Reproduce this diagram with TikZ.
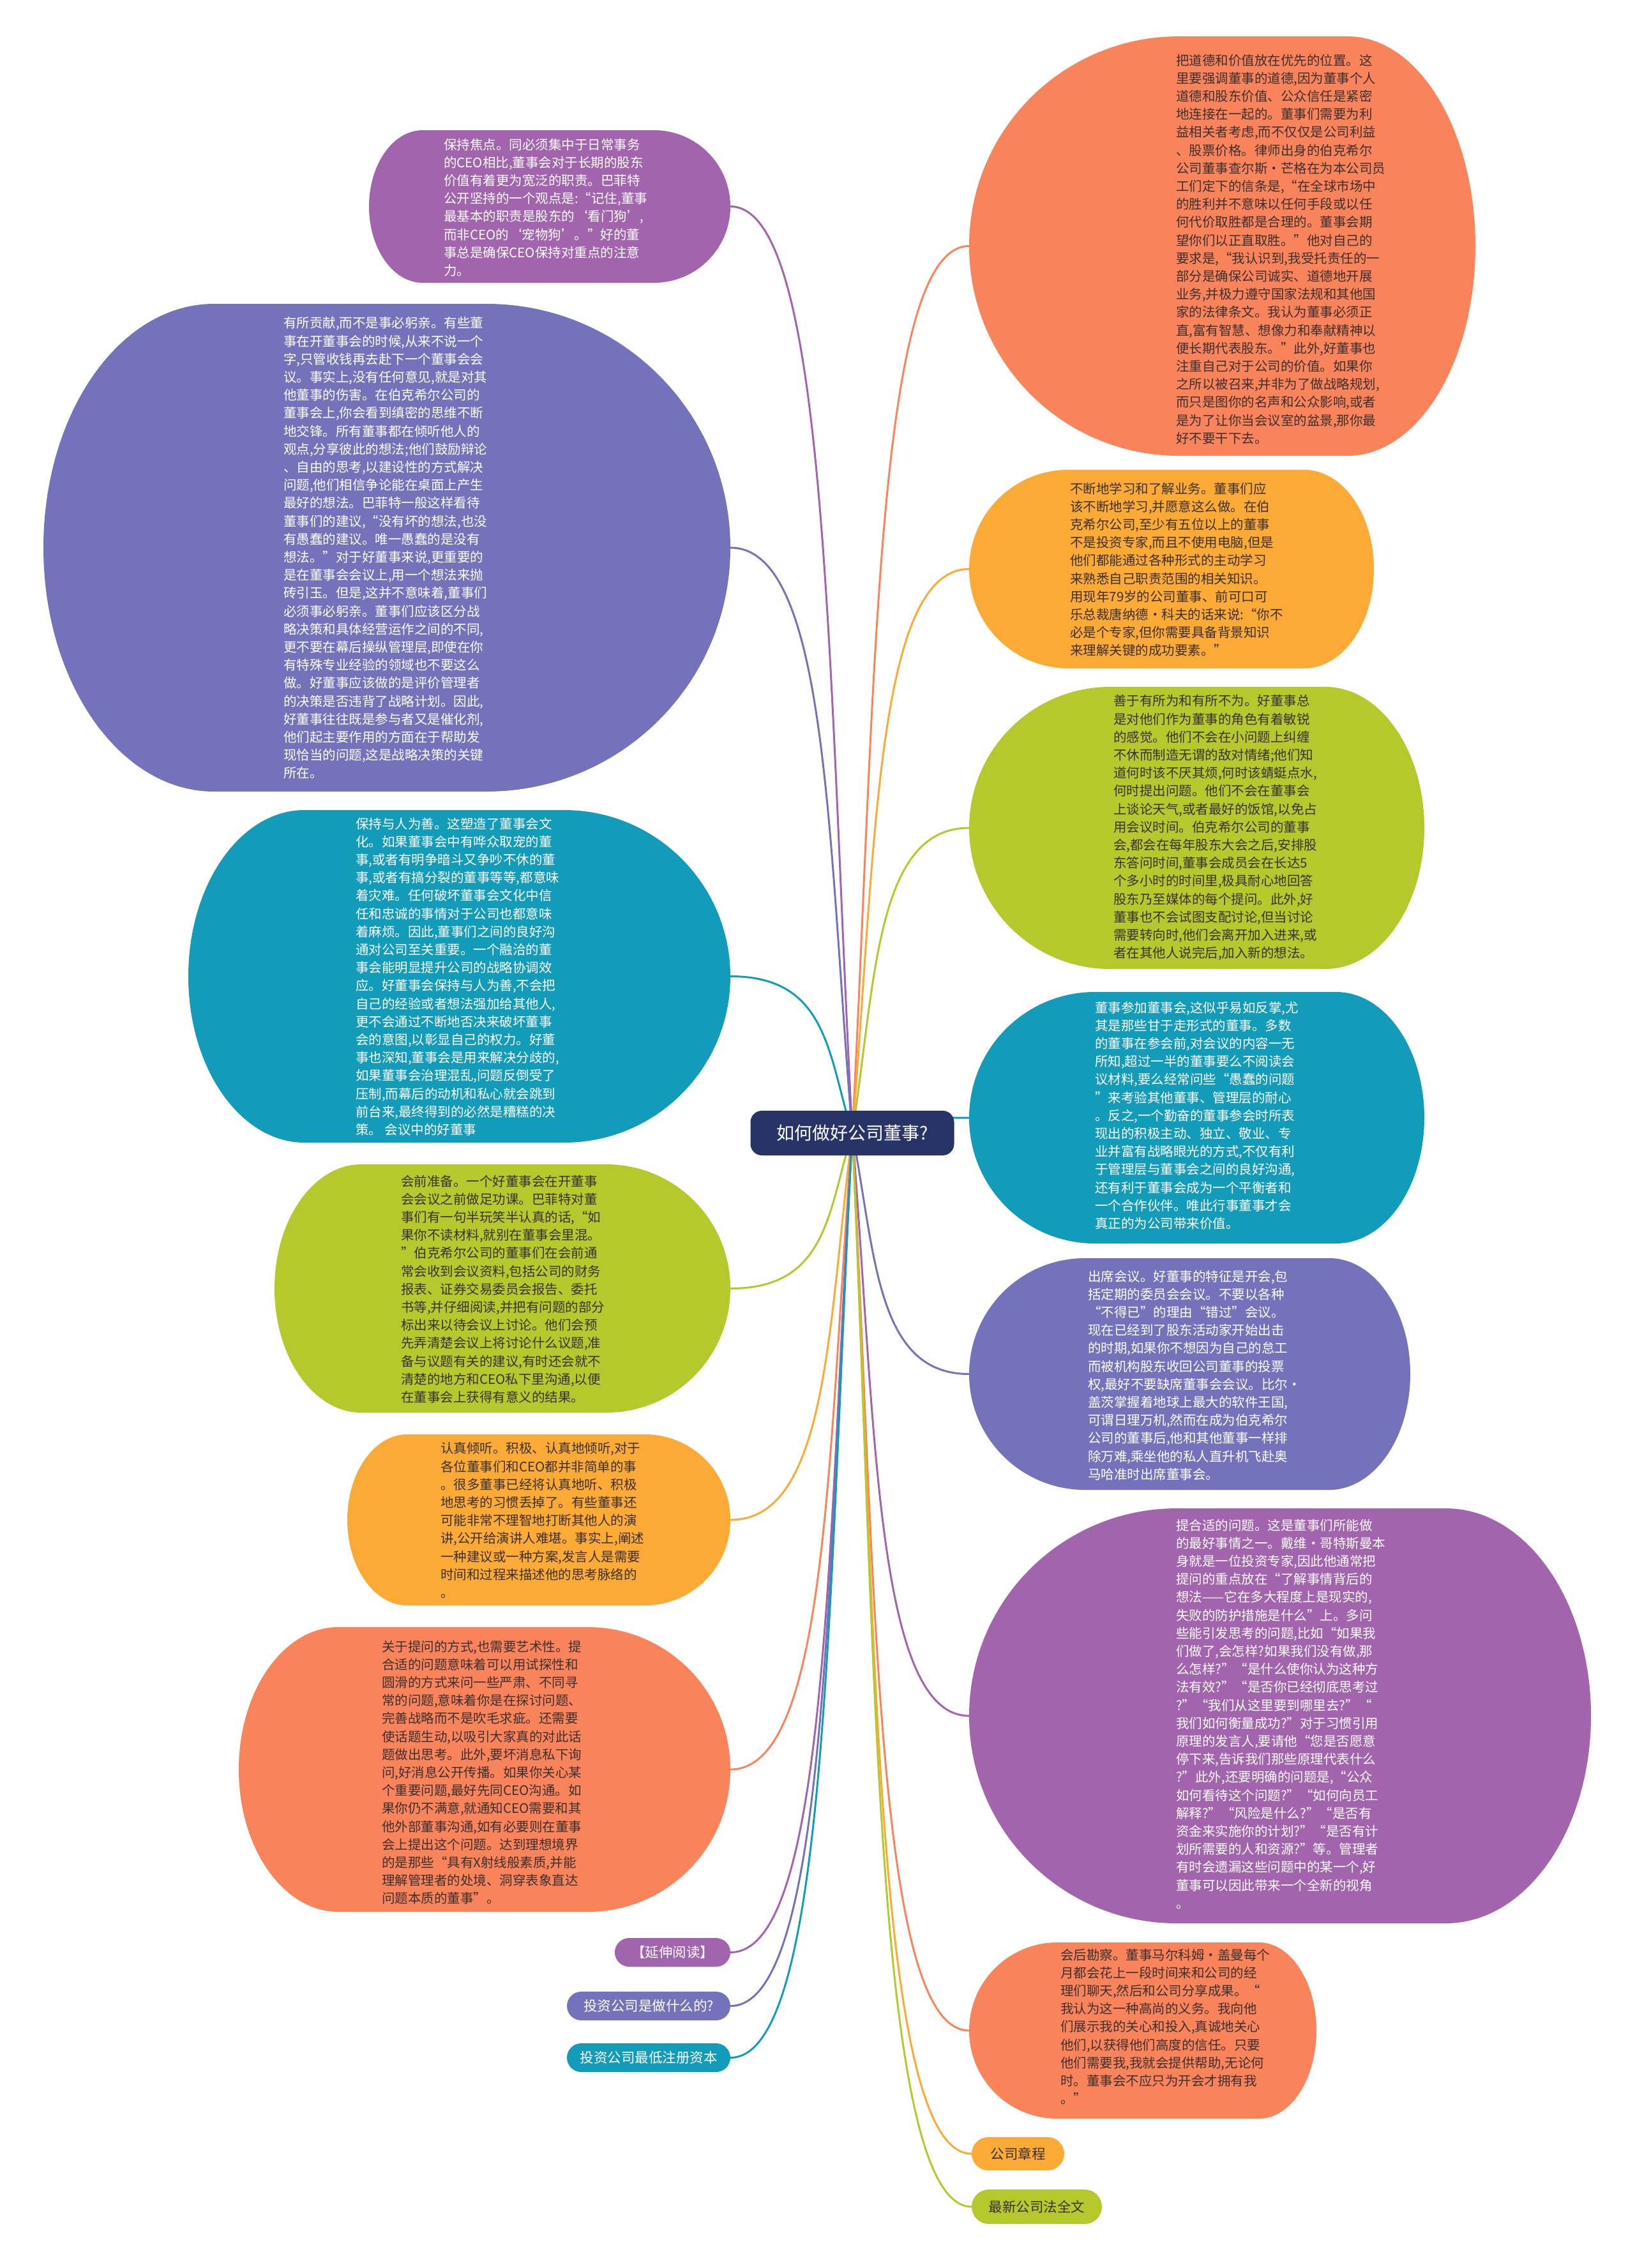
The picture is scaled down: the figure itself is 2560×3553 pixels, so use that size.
\documentclass[tikz,border=0pt]{standalone}
\usepackage{fontspec}
\newfontfamily\cjk{Noto Sans CJK SC}
\usetikzlibrary{calc,backgrounds}
\definecolor{cpurple}{HTML}{A264AC}
\definecolor{cblue}{HTML}{7472BA}
\definecolor{cteal}{HTML}{139BBA}
\definecolor{cgreen}{HTML}{B5C92C}
\definecolor{corange}{HTML}{FBAA36}
\definecolor{cred}{HTML}{F9835A}
\definecolor{cnavy}{HTML}{283468}
\definecolor{cdark}{HTML}{3C3030}
\newcommand{\mmbody}{\cjk\fontsize{20.5pt}{28.2pt}\selectfont}
\newcommand{\mmlabel}{\cjk\fontsize{21.5pt}{26pt}\selectfont}
% bubble: #1 name, #2 colour, #3 x0, #4 y0, #5 x1, #6 y1, #7 left x-radius, #8 right x-radius
% vertical radius on both ends is half the height
\newcommand{\bubble}[8]{%
  \pgfmathsetmacro\bw{#5-#3}\pgfmathsetmacro\bh{#6-#4}%
  \fill[#2] ({#3+#7},#4) -- ({#5-#8},#4)
    .. controls ({#5-0.4477*#8},#4) and (#5,{#4+0.4477*(#6-#4)/2}) .. (#5,{(#4+#6)/2})
    .. controls (#5,{#6-0.4477*(#6-#4)/2}) and ({#5-0.4477*#8},#6) .. ({#5-#8},#6)
    -- ({#3+#7},#6)
    .. controls ({#3+0.4477*#7},#6) and (#3,{#6-0.4477*(#6-#4)/2}) .. (#3,{(#4+#6)/2})
    .. controls (#3,{#4+0.4477*(#6-#4)/2}) and ({#3+0.4477*#7},#4) .. ({#3+#7},#4) -- cycle;
  \node[inner sep=0pt, minimum width=\bw pt, minimum height=\bh pt] (#1) at ({(#3+#5)/2},{(#4+#6)/2}) {};
}
\begin{document}
\begin{tikzpicture}[x=1pt,y=-1pt,
  conn/.style={line width=3pt, draw=#1, to path={let \p1=(\tikztostart), \p2=(\tikztotarget) in
     .. controls ({\x1+0.2*(\x2-\x1)},{\y1+0.5*(\y2-\y1)}) and ({\x1+0.2*(\x2-\x1)},{\y2}) .. (\tikztotarget)}},
  txtw/.style={anchor=north west, inner sep=0pt, align=left, font=\mmbody, text=white},
  txtd/.style={anchor=north west, inner sep=0pt, align=left, font=\mmbody, text=cdark},
  lblw/.style={inner sep=0pt, font=\mmlabel, text=white},
  lbld/.style={inner sep=0pt, font=\mmlabel, text=cdark},
  rootbox/.style={fill=cnavy, rounded corners=18pt, text=white, font=\cjk\fontsize{28pt}{32pt}\selectfont,
     minimum width=319pt, minimum height=70pt, inner sep=0pt}]
\useasboundingbox (0,0) rectangle (2560,3553);

% ---------- left bubbles (trunk side = right) ----------
\bubble{L1}{cpurple}{578}{204}{1144}{443}{84}{119.5}
\bubble{L2}{cblue}{68}{476}{1144}{1240}{267}{382}
\bubble{L3}{cteal}{295}{1269}{1144}{1790}{182}{260.5}
\bubble{L4}{cgreen}{430}{1824}{1144}{2213}{136}{194.5}
\bubble{L5}{corange}{544}{2247}{1144}{2515}{94}{134}
\bubble{L6}{cred}{374}{2549}{1144}{2995}{156}{223}
\bubble{L7a}{cpurple}{963}{3036}{1144}{3081}{22.5}{22.5}
\bubble{L7b}{cblue}{888}{3120}{1144}{3165}{22.5}{22.5}
\bubble{L7c}{cteal}{888}{3201}{1144}{3246}{22.5}{22.5}

% ---------- right bubbles (trunk side = left) ----------
\bubble{R1}{cred}{1518}{57}{2311}{714}{328.5}{200}
\bubble{R2}{corange}{1518}{736}{2152}{1047}{155.5}{109}
\bubble{R3}{cgreen}{1518}{1076}{2231}{1518}{221}{155}
\bubble{R4}{cteal}{1518}{1554}{2231}{1948}{197}{138}
\bubble{R5}{cblue}{1518}{1971}{2209}{2334}{181.5}{127}
\bubble{R6}{cpurple}{1518}{2363}{2492}{3013}{325}{227}
\bubble{R7}{cred}{1518}{3043}{2062}{3319}{138}{90}
\bubble{R8}{corange}{1522}{3348}{1667}{3400}{26}{26}
\bubble{R9}{cgreen}{1522}{3430}{1726}{3484}{27}{27}

% ---------- texts, left ----------
\node[txtw] (L1t) at (695,216.5) {保持焦点。同必须集中于日常事务\\
的CEO相比,董事会对于长期的股东\\
价值有着更为宽泛的职责。巴菲特\\
公开坚持的一个观点是:“记住,董事\\
最基本的职责是股东的‘看门狗’,\\
而非CEO的‘宠物狗’。”好的董\\
事总是确保CEO保持对重点的注意\\
力。};

\node[txtw] (L2t) at (444,496.5) {有所贡献,而不是事必躬亲。有些董\\
事在开董事会的时候,从来不说一个\\
字,只管收钱再去赴下一个董事会会\\
议。事实上,没有任何意见,就是对其\\
他董事的伤害。在伯克希尔公司的\\
董事会上,你会看到缜密的思维不断\\
地交锋。所有董事都在倾听他人的\\
观点,分享彼此的想法;他们鼓励辩论\\
、自由的思考,以建设性的方式解决\\
问题,他们相信争论能在桌面上产生\\
最好的想法。巴菲特一般这样看待\\
董事们的建议,“没有坏的想法,也没\\
有愚蠢的建议。唯一愚蠢的是没有\\
想法。”对于好董事来说,更重要的\\
是在董事会会议上,用一个想法来抛\\
砖引玉。但是,这并不意味着,董事们\\
必须事必躬亲。董事们应该区分战\\
略决策和具体经营运作之间的不同,\\
更不要在幕后操纵管理层,即使在你\\
有特殊专业经验的领域也不要这么\\
做。好董事应该做的是评价管理者\\
的决策是否违背了战略计划。因此,\\
好董事往往既是参与者又是催化剂,\\
他们起主要作用的方面在于帮助发\\
现恰当的问题,这是战略决策的关键\\
所在。};

\node[txtw] (L3t) at (557,1280.5) {保持与人为善。这塑造了董事会文\\
化。如果董事会中有哗众取宠的董\\
事,或者有明争暗斗又争吵不休的董\\
事,或者有搞分裂的董事等等,都意味\\
着灾难。任何破坏董事会文化中信\\
任和忠诚的事情对于公司也都意味\\
着麻烦。因此,董事们之间的良好沟\\
通对公司至关重要。一个融洽的董\\
事会能明显提升公司的战略协调效\\
应。好董事会保持与人为善,不会把\\
自己的经验或者想法强加给其他人,\\
更不会通过不断地否决来破坏董事\\
会的意图,以彰显自己的权力。好董\\
事也深知,董事会是用来解决分歧的,\\
如果董事会治理混乱,问题反倒受了\\
压制,而幕后的动机和私心就会跳到\\
前台来,最终得到的必然是糟糕的决\\
策。 会议中的好董事};

\node[txtd] (L4t) at (628,1840.5) {会前准备。一个好董事会在开董事\\
会会议之前做足功课。巴菲特对董\\
事们有一句半玩笑半认真的话,“如\\
果你不读材料,就别在董事会里混。\\
”伯克希尔公司的董事们在会前通\\
常会收到会议资料,包括公司的财务\\
报表、证券交易委员会报告、委托\\
书等,并仔细阅读,并把有问题的部分\\
标出来以待会议上讨论。他们会预\\
先弄清楚会议上将讨论什么议题,准\\
备与议题有关的建议,有时还会就不\\
清楚的地方和CEO私下里沟通,以便\\
在董事会上获得有意义的结果。};

\node[txtd] (L5t) at (690,2259.5) {认真倾听。积极、认真地倾听,对于\\
各位董事们和CEO都并非简单的事\\
。很多董事已经将认真地听、积极\\
地思考的习惯丢掉了。有些董事还\\
可能非常不理智地打断其他人的演\\
讲,公开给演讲人难堪。事实上,阐述\\
一种建议或一种方案,发言人是需要\\
时间和过程来描述他的思考脉络的\\
。};

\node[txtd] (L6t) at (598,2569.5) {关于提问的方式,也需要艺术性。提\\
合适的问题意味着可以用试探性和\\
圆滑的方式来问一些严肃、不同寻\\
常的问题,意味着你是在探讨问题、\\
完善战略而不是吹毛求疵。还需要\\
使话题生动,以吸引大家真的对此话\\
题做出思考。此外,要坏消息私下询\\
问,好消息公开传播。如果你关心某\\
个重要问题,最好先同CEO沟通。如\\
果你仍不满意,就通知CEO需要和其\\
他外部董事沟通,如有必要则在董事\\
会上提出这个问题。达到理想境界\\
的是那些“具有X射线般素质,并能\\
理解管理者的处境、洞穿表象直达\\
问题本质的董事”。};

\node[lblw] (L7at) at (L7a) {【延伸阅读】};
\node[lblw] (L7bt) at (L7b) {投资公司是做什么的?};
\node[lblw] (L7ct) at (L7c) {投资公司最低注册资本};

% ---------- texts, right ----------
\node[txtd] (R1t) at (1842,84.5) {把道德和价值放在优先的位置。这\\
里要强调董事的道德,因为董事个人\\
道德和股东价值、公众信任是紧密\\
地连接在一起的。董事们需要为利\\
益相关者考虑,而不仅仅是公司利益\\
、股票价格。律师出身的伯克希尔\\
公司董事查尔斯·芒格在为本公司员\\
工们定下的信条是,“在全球市场中\\
的胜利并不意味以任何手段或以任\\
何代价取胜都是合理的。董事会期\\
望你们以正直取胜。”他对自己的\\
要求是,“我认识到,我受托责任的一\\
部分是确保公司诚实、道德地开展\\
业务,并极力遵守国家法规和其他国\\
家的法律条文。我认为董事必须正\\
直,富有智慧、想像力和奉献精神以\\
便长期代表股东。”此外,好董事也\\
注重自己对于公司的价值。如果你\\
之所以被召来,并非为了做战略规划,\\
而只是图你的名声和公众影响,或者\\
是为了让你当会议室的盆景,那你最\\
好不要干下去。};

\node[txtd] (R2t) at (1676,755.5) {不断地学习和了解业务。董事们应\\
该不断地学习,并愿意这么做。在伯\\
克希尔公司,至少有五位以上的董事\\
不是投资专家,而且不使用电脑,但是\\
他们都能通过各种形式的主动学习\\
来熟悉自己职责范围的相关知识。\\
用现年79岁的公司董事、前可口可\\
乐总裁唐纳德·科夫的话来说:“你不\\
必是个专家,但你需要具备背景知识\\
来理解关键的成功要素。”};

\node[txtd] (R3t) at (1744,1088.5) {善于有所为和有所不为。好董事总\\
是对他们作为董事的角色有着敏锐\\
的感觉。他们不会在小问题上纠缠\\
不休而制造无谓的敌对情绪;他们知\\
道何时该不厌其烦,何时该蜻蜓点水,\\
何时提出问题。他们不会在董事会\\
上谈论天气,或者最好的饭馆,以免占\\
用会议时间。伯克希尔公司的董事\\
会,都会在每年股东大会之后,安排股\\
东答问时间,董事会成员会在长达5\\
个多小时的时间里,极具耐心地回答\\
股东乃至媒体的每个提问。此外,好\\
董事也不会试图支配讨论,但当讨论\\
需要转向时,他们会离开加入进来,或\\
者在其他人说完后,加入新的想法。};

\node[txtw] (R4t) at (1715,1568.5) {董事参加董事会,这似乎易如反掌,尤\\
其是那些甘于走形式的董事。多数\\
的董事在参会前,对会议的内容一无\\
所知,超过一半的董事要么不阅读会\\
议材料,要么经常问些“愚蠢的问题\\
”来考验其他董事、管理层的耐心\\
。反之,一个勤奋的董事参会时所表\\
现出的积极主动、独立、敬业、专\\
业并富有战略眼光的方式,不仅有利\\
于管理层与董事会之间的良好沟通,\\
还有利于董事会成为一个平衡者和\\
一个合作伙伴。唯此行事董事才会\\
真正的为公司带来价值。};

\node[txtw] (R5t) at (1704,1989.5) {出席会议。好董事的特征是开会,包\\
括定期的委员会会议。不要以各种\\
“不得已”的理由“错过”会议。\\
现在已经到了股东活动家开始出击\\
的时期,如果你不想因为自己的怠工\\
而被机构股东收回公司董事的投票\\
权,最好不要缺席董事会会议。比尔·\\
盖茨掌握着地球上最大的软件王国,\\
可谓日理万机,然而在成为伯克希尔\\
公司的董事后,他和其他董事一样排\\
除万难,乘坐他的私人直升机飞赴奥\\
马哈准时出席董事会。};

\node[txtw] (R6t) at (1842,2379.5) {提合适的问题。这是董事们所能做\\
的最好事情之一。戴维·哥特斯曼本\\
身就是一位投资专家,因此他通常把\\
提问的重点放在“了解事情背后的\\
想法——它在多大程度上是现实的,\\
失败的防护措施是什么”上。多问\\
些能引发思考的问题,比如“如果我\\
们做了,会怎样?如果我们没有做,那\\
么怎样?”“是什么使你认为这种方\\
法有效?”“是否你已经彻底思考过\\
?”“我们从这里要到哪里去?”“\\
我们如何衡量成功?”对于习惯引用\\
原理的发言人,要请他“您是否愿意\\
停下来,告诉我们那些原理代表什么\\
?”此外,还要明确的问题是,“公众\\
如何看待这个问题?”“如何向员工\\
解释?”“风险是什么?”“是否有\\
资金来实施你的计划?”“是否有计\\
划所需要的人和资源?”等。管理者\\
有时会遗漏这些问题中的某一个,好\\
董事可以因此带来一个全新的视角\\
。};

\node[txtd] (R7t) at (1661,3052.5) {会后勘察。董事马尔科姆·盖曼每个\\
月都会花上一段时间来和公司的经\\
理们聊天,然后和公司分享成果。“\\
我认为这一种高尚的义务。我向他\\
们展示我的关心和投入,真诚地关心\\
他们,以获得他们高度的信任。只要\\
他们需要我,我就会提供帮助,无论何\\
时。董事会不应只为开会才拥有我\\
。”};

\node[lbld] (R8t) at (R8) {公司章程};
\node[lbld] (R9t) at (R9) {最新公司法全文};

% ---------- root ----------
\node[rootbox] (root) at (1335,1775) {如何做好公司董事?};

% ---------- connectors ----------
\begin{scope}[on background layer]
\fill[white] (0,0) rectangle (2560,3553);
\draw[conn=cpurple] (root.center) to (L1.east);
\draw[conn=cblue]   (root.center) to (L2.east);
\draw[conn=cteal]   (root.center) to (L3.east);
\draw[conn=cgreen]  (root.center) to (L4.east);
\draw[conn=corange] (root.center) to (L5.east);
\draw[conn=cred]    (root.center) to (L6.east);
\draw[conn=cpurple] (root.center) to (L7a.east);
\draw[conn=cblue]   (root.center) to (L7b.east);
\draw[conn=cteal]   (root.center) to (L7c.east);
\draw[conn=cred]    (root.center) to (R1.west);
\draw[conn=corange] (root.center) to (R2.west);
\draw[conn=cgreen]  (root.center) to (R3.west);
\draw[conn=cteal]   (root.center) to (R4.west);
\draw[conn=cblue]   (root.center) to (R5.west);
\draw[conn=cpurple] (root.center) to (R6.west);
\draw[conn=cred]    (root.center) to (R7.west);
\draw[conn=corange] (root.center) to (R8.west);
\draw[conn=cgreen]  (root.center) to (R9.west);
\end{scope}
\end{tikzpicture}
\end{document}
